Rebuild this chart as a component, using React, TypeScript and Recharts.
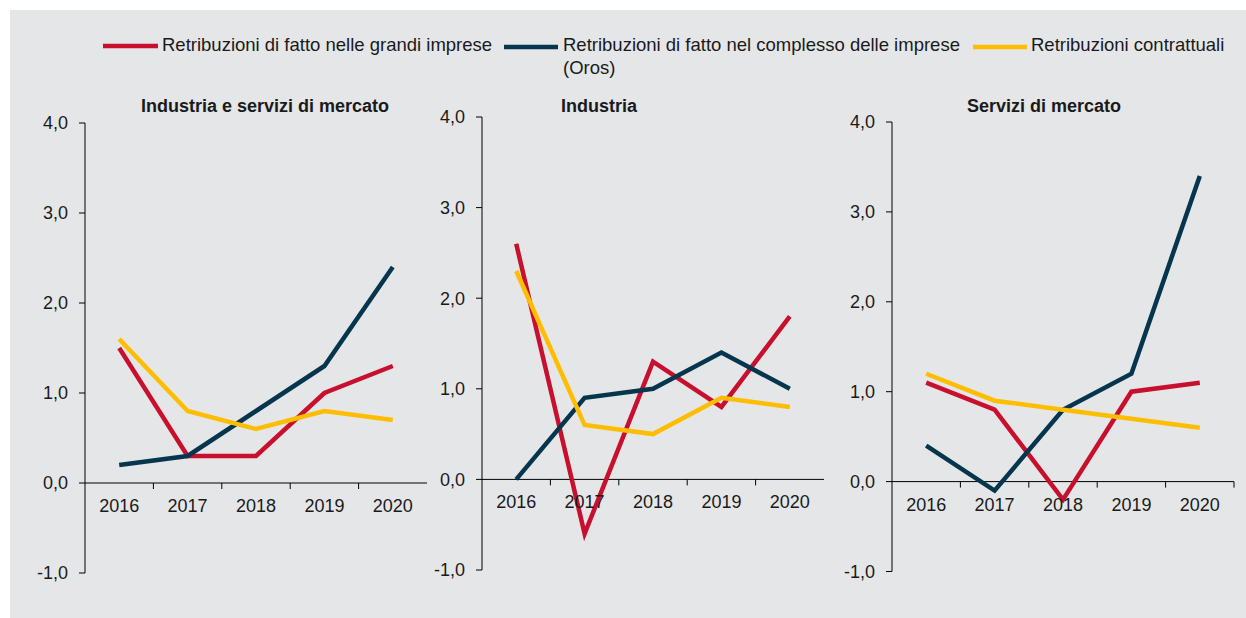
import { LineChart, Line, XAxis, YAxis, ReferenceLine } from "recharts";

const years = ["2016", "2017", "2018", "2019", "2020"];
const yTicks = [-1, 0, 1, 2, 3, 4];

const seriesNames = [
  "Retribuzioni di fatto nelle grandi imprese",
  "Retribuzioni di fatto nel complesso delle imprese",
  "Retribuzioni contrattuali",
];

const panelTitles = ["Industria e servizi di mercato", "Industria", "Servizi di mercato"];

// Industria e servizi di mercato
const grandiTotale = [1.5, 0.3, 0.3, 1.0, 1.3];
const orosTotale = [0.2, 0.3, 0.8, 1.3, 2.4];
const contrattualiTotale = [1.6, 0.8, 0.6, 0.8, 0.7];

// Industria
const grandiIndustria = [2.6, -0.6, 1.3, 0.8, 1.8];
const orosIndustria = [0.0, 0.9, 1.0, 1.4, 1.0];
const contrattualiIndustria = [2.3, 0.6, 0.5, 0.9, 0.8];

// Servizi di mercato
const grandiServizi = [1.1, 0.8, -0.2, 1.0, 1.1];
const orosServizi = [0.4, -0.1, 0.8, 1.2, 3.4];
const contrattualiServizi = [1.2, 0.9, 0.8, 0.7, 0.6];

const RED = "#c8102e";
const NAVY = "#05364d";
const YELLOW = "#ffbd00";
const TEXT = "#1a1a1a";
const FONT = "'Liberation Sans', Arial, Helvetica, sans-serif";

const buildRows = (a: number[], b: number[], c: number[]) =>
  years.map((year, i) => ({ year, grandi: a[i], oros: b[i], contrattuali: c[i] }));

const panels = [
  { title: panelTitles[0], rows: buildRows(grandiTotale, orosTotale, contrattualiTotale), axisX: 85, top: 123.3, plotH: 450, titleX: 265, endTick: false },
  { title: panelTitles[1], rows: buildRows(grandiIndustria, orosIndustria, contrattualiIndustria), axisX: 482, top: 116.7, plotH: 453, titleX: 599, endTick: false },
  { title: panelTitles[2], rows: buildRows(grandiServizi, orosServizi, contrattualiServizi), axisX: 892, top: 121.7, plotH: 449.5, titleX: 1044, endTick: true },
];

const PLOT_W = 342;
const BAND = PLOT_W / years.length;
const Y_W = 60;
const M_TOP = 10;
const X_H = 30;
const LW = 4.5;

const fmt = (v: number) => v.toFixed(1).replace(".", ",");

function YearTick(props: any) {
  const { x, payload, index, zeroY, endTick } = props;
  const showTick = index < years.length - 1 || endTick;
  return (
    <g>
      <text x={x} y={zeroY + 29} textAnchor="middle" fontSize={18} fill={TEXT}>
        {payload.value}
      </text>
      {showTick && (
        <line x1={x + BAND / 2} x2={x + BAND / 2} y1={zeroY} y2={zeroY + 6} stroke="#000" strokeWidth={1} />
      )}
    </g>
  );
}

function Panel({ p }: { p: (typeof panels)[number] }) {
  const height = p.plotH + M_TOP + X_H;
  const zeroY = M_TOP + (p.plotH * 4) / 5;
  return (
    <div style={{ position: "absolute", left: p.axisX - Y_W, top: p.top - M_TOP }}>
      <LineChart width={Y_W + PLOT_W + 6} height={height} data={p.rows} margin={{ top: M_TOP, right: 6, left: 0, bottom: 0 }}>
        <YAxis
          domain={[-1, 4]}
          ticks={yTicks}
          interval={0}
          width={Y_W}
          tickFormatter={fmt}
          tickSize={6}
          tickMargin={11}
          stroke="#000"
          tick={{ fill: TEXT, fontSize: 18 }}
        />
        <XAxis
          dataKey="year"
          height={X_H}
          interval={0}
          padding={{ left: BAND / 2, right: BAND / 2 }}
          axisLine={false}
          tickLine={false}
          tick={(tp: any) => <YearTick {...tp} zeroY={zeroY} endTick={p.endTick} />}
        />
        <ReferenceLine y={0} stroke="#000" strokeWidth={1} />
        <Line dataKey="grandi" stroke={RED} strokeWidth={LW} dot={false} isAnimationActive={false} />
        <Line dataKey="oros" stroke={NAVY} strokeWidth={LW} dot={false} isAnimationActive={false} />
        <Line dataKey="contrattuali" stroke={YELLOW} strokeWidth={LW} dot={false} isAnimationActive={false} />
      </LineChart>
    </div>
  );
}

export default function App() {
  return (
    <div style={{ position: "absolute", left: 0, top: 0, width: 1246, height: 618, background: "#fff", fontFamily: FONT, overflow: "hidden" }}>
      <div style={{ position: "absolute", left: 10, top: 10, width: 1236, height: 608, background: "#e5e6e8" }} />
      <svg width={1246} height={618} style={{ position: "absolute", left: 0, top: 0 }} fontFamily={FONT}>
        <line x1={103} x2={158} y1={46} y2={46} stroke={RED} strokeWidth={LW} />
        <text x={162} y={51} fontSize={18.5} fill={TEXT}>{seriesNames[0]}</text>
        <line x1={504} x2={558} y1={47} y2={47} stroke={NAVY} strokeWidth={LW} />
        <text x={563} y={51} fontSize={18.5} fill={TEXT}>{seriesNames[1]}</text>
        <text x={563} y={74} fontSize={18.5} fill={TEXT}>(Oros)</text>
        <line x1={973} x2={1027} y1={47} y2={47} stroke={YELLOW} strokeWidth={LW} />
        <text x={1031} y={51} fontSize={18.5} fill={TEXT}>{seriesNames[2]}</text>
        {panels.map((p) => (
          <text key={p.title} x={p.titleX} y={112} textAnchor="middle" fontSize={18} fontWeight="bold" fill={TEXT}>
            {p.title}
          </text>
        ))}
      </svg>
      {panels.map((p) => (
        <Panel key={p.title} p={p} />
      ))}
    </div>
  );
}
